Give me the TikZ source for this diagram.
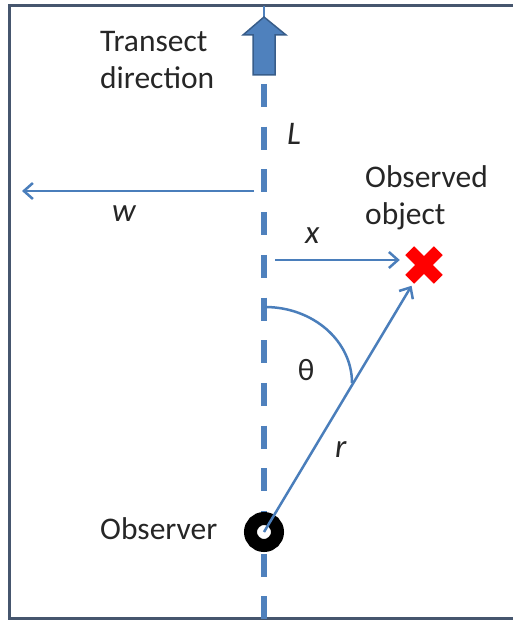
\documentclass[tikz,border=0pt]{standalone}
\usepackage{fontspec}
\setmainfont{Carlito}
\usetikzlibrary{arrows.meta}
\definecolor{lineblue}{HTML}{4A7EBB}
\definecolor{fillblue}{HTML}{4F81BD}
\definecolor{edgeblue}{HTML}{385D8A}
\definecolor{framecol}{HTML}{46566E}
\definecolor{crossred}{HTML}{FF0000}
\begin{document}
\begin{tikzpicture}[x=1pt,y=-1pt,
  lbl/.style={font=\fontsize{31.5}{37}\selectfont, inner sep=0pt, anchor=base west, text=black!85},
  var/.style={font=\fontsize{33}{40}\selectfont\itshape, inner sep=0pt, anchor=base west, text=black!85},
  conn/.style={draw=lineblue, line width=2.5pt, -{Straight Barb[length=9pt,width=16pt]}},
  guide/.style={draw=lineblue, line width=2.5pt},
  framel/.style={draw=framecol, line width=3pt, line cap=rect},
]
\useasboundingbox (0,0) rectangle (513,620);
\coordinate (ftl) at (9,6);
\coordinate (fbl) at (9,618);
\coordinate (ftr) at (511,6);
\coordinate (fbr) at (511,618);
\draw[framel] (ftl) -- (fbl);
\draw[framel] (ftl) -- (ftr);
\draw[framel] (fbl) -- (fbr);

% transect (dashed line)
\coordinate (tdash) at (264,84);
\coordinate (tend) at (264,620);
\draw[fillblue, line width=6pt, dash pattern=on 23pt off 19.7pt] (tdash) -- (tend);
\coordinate (ttop) at (264,6);
\coordinate (ttip) at (264,18);
\draw[fillblue, line width=2pt] (ttop) -- (ttip);
\draw[fill=fillblue, draw=edgeblue, line width=1.5pt]
  (253,75) -- (253,35) -- (243,35) -- (264,17) -- (286,35) -- (275,35) -- (275,75) -- cycle;

% nodes
\node[circle, minimum size=48pt, inner sep=0pt] (obj) at (424,265) {};
\draw[crossred, line width=12.5pt] (obj.center) ++(-14.3,-14.3) -- ++(28.6,28.6);
\draw[crossred, line width=12.5pt] (obj.center) ++(-14.3,14.3) -- ++(28.6,-28.6);

\node[circle, draw=black, fill=white, line width=13pt, minimum size=27pt, inner sep=0pt] (obs) at (264,532) {};

% angle arc
\coordinate (arcs) at (265,307);
\draw[guide] (arcs) arc[start angle=-90, end angle=0, x radius=87, y radius=76];

% connectors
\coordinate (ws) at (254,191);
\coordinate (we) at (22,191);
\draw[conn] (ws) -- (we);
\coordinate (xs) at (275,260);
\draw[conn] (xs) -- (xs -| obj.west);
\draw[conn] (obs.center) -- (obj);

% labels
\node[lbl, align=left] (transect) at (100,89) {Transect\\direction};
\node[var] (L) at (287,145) {L};
\node[var] (w) at (112,222) {w};
\node[var] (x) at (305,243) {x};
\node[font=\fontsize{31}{36}\selectfont, inner sep=0pt, text=black!85] (theta) at (306,370) {θ};
\node[var] (r) at (335,457) {r};
\node[lbl, align=left] (objlbl) at (365,225) {Observed\\object};
\node[lbl] (obslbl) at (100,539) {Observer};
\end{tikzpicture}
\end{document}
